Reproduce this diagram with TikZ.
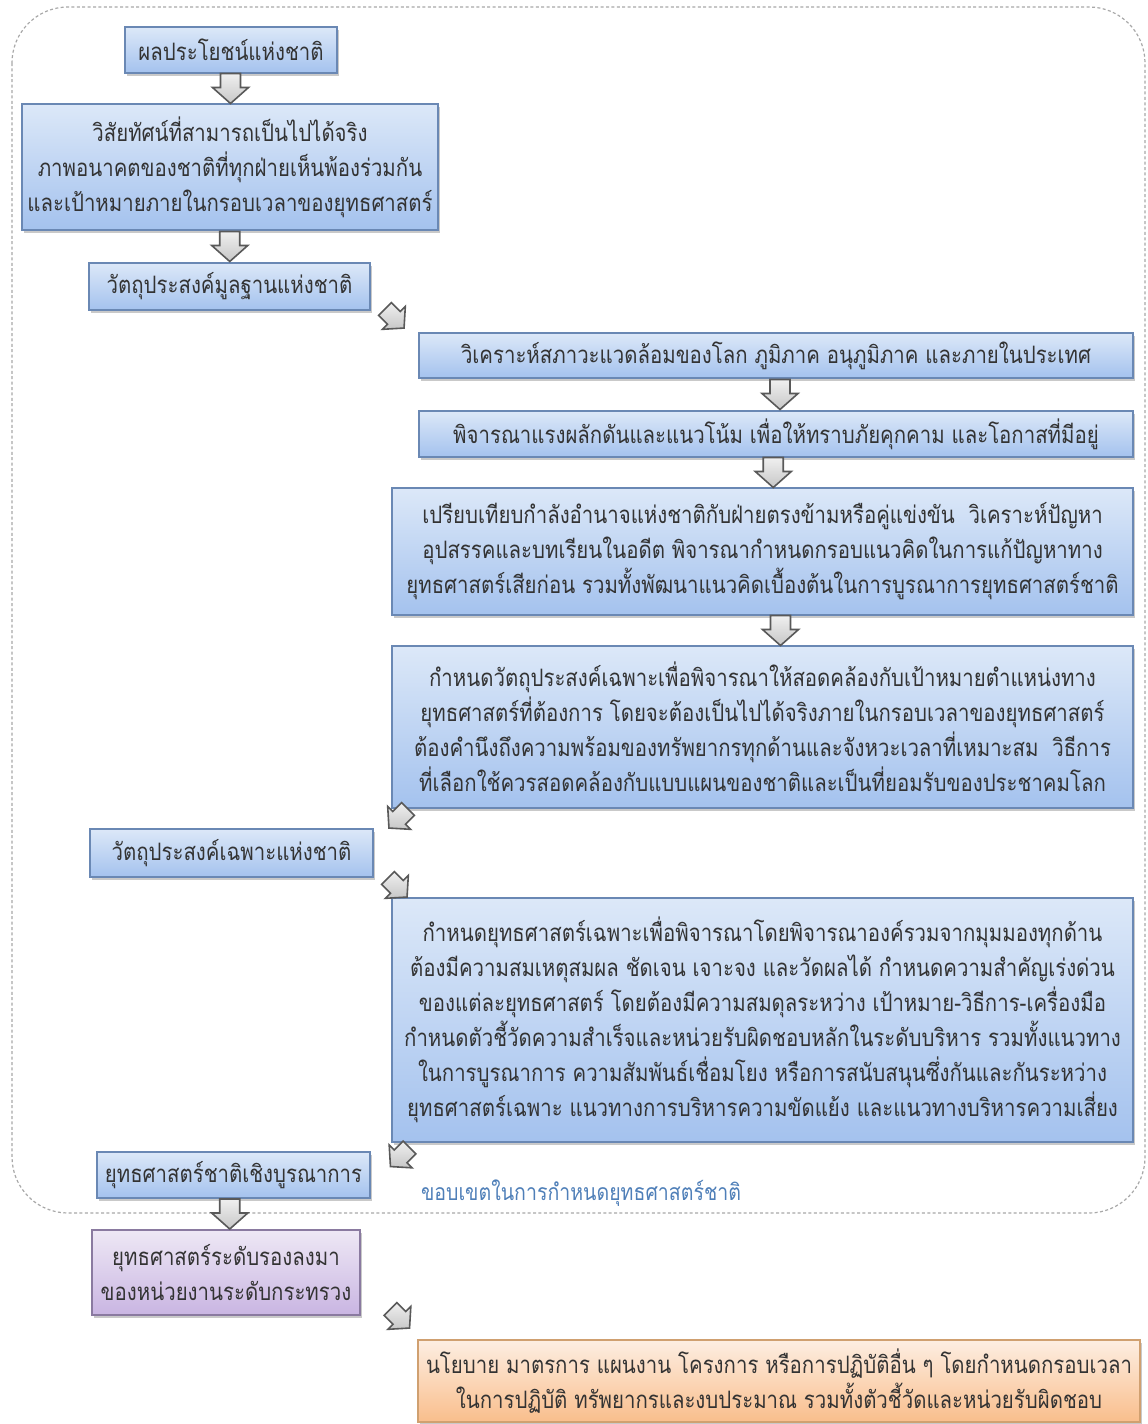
\documentclass[tikz,border=0pt]{standalone}
\usepackage{fontspec}
\setmainfont[Script=Thai,FakeStretch=0.85]{Loma}
\usetikzlibrary{calc,shadows}
\definecolor{txt}{HTML}{333333}
\definecolor{bluetop}{HTML}{DCE8F8}
\definecolor{bluebot}{HTML}{A4C2EE}
\definecolor{bluedraw}{HTML}{6A88B4}
\definecolor{purtop}{HTML}{EEE8F5}
\definecolor{purbot}{HTML}{C9B5E2}
\definecolor{purdraw}{HTML}{8A7AA0}
\definecolor{orgtop}{HTML}{FDEEE2}
\definecolor{orgbot}{HTML}{F9BE8C}
\definecolor{orgdraw}{HTML}{D0A070}
\definecolor{labelblue}{HTML}{4F7FB8}
\definecolor{bordergray}{HTML}{A8A8A8}
\tikzset{
  barrow/.pic={
    \draw[line width=0.8pt, draw=black!65, top color=black!6, bottom color=black!22, line join=miter]
      (-5pt,7.5pt) -- (5pt,7.5pt) -- (5pt,0.5pt) -- (9pt,0.5pt) -- (0pt,-7.5pt)
      -- (-9pt,0.5pt) -- (-5pt,0.5pt) -- cycle;
  }
}
\begin{document}
\begin{tikzpicture}[x=0.5pt,y=-0.5pt,
  base/.style={draw, line width=0.7pt, inner sep=1pt, align=center, text=txt,
    font=\fontsize{12}{17.5}\selectfont,
    drop shadow={shadow xshift=1pt, shadow yshift=-1.5pt, opacity=0.3, fill=black!70}},
  bluebox/.style={base, draw=bluedraw, top color=bluetop, bottom color=bluebot},
  purbox/.style={base, draw=purdraw, top color=purtop, bottom color=purbot},
  orgbox/.style={base, draw=orgdraw, top color=orgtop, bottom color=orgbot},
  boundary/.style={draw=bordergray, line width=0.6pt, dash pattern=on 1.5pt off 1.2pt, rounded corners=28pt},
  scopelabel/.style={text=labelblue, font=\fontsize{11.5}{12}\selectfont, inner sep=0pt}
]
\useasboundingbox (0,0) rectangle (1147,1424);
\draw[boundary] (12,7) rectangle (1145,1213);

\node[bluebox, minimum width=106pt, minimum height=23pt] (n1) at (231,50) {ผลประโยชน์แห่งชาติ};
\node[bluebox, minimum width=208pt, minimum height=63pt] (n2) at (230,167) {วิสัยทัศน์ที่สามารถเป็นไปได้จริง\\ภาพอนาคตของชาติที่ทุกฝ่ายเห็นพ้องร่วมกัน\\และเป้าหมายภายในกรอบเวลาของยุทธศาสตร์};
\node[bluebox, minimum width=140.5pt, minimum height=23.5pt] (n3) at (229.5,286.5) {วัตถุประสงค์มูลฐานแห่งชาติ};
\node[bluebox, minimum width=357pt, minimum height=22.5pt] (n4) at (776,355.5) {วิเคราะห์สภาวะแวดล้อมของโลก ภูมิภาค อนุภูมิภาค และภายในประเทศ};
\node[bluebox, minimum width=357pt, minimum height=23pt] (n5) at (776,434) {พิจารณาแรงผลักดันและแนวโน้ม เพื่อให้ทราบภัยคุกคาม และโอกาสที่มีอยู่};
\node[bluebox, minimum width=370.5pt, minimum height=63.5pt] (n6) at (762.5,551.5) {เปรียบเทียบกำลังอำนาจแห่งชาติกับฝ่ายตรงข้ามหรือคู่แข่งขัน\ \ วิเคราะห์ปัญหา\\อุปสรรคและบทเรียนในอดีต พิจารณากำหนดกรอบแนวคิดในการแก้ปัญหาทาง\\ยุทธศาสตร์เสียก่อน รวมทั้งพัฒนาแนวคิดเบื้องต้นในการบูรณาการยุทธศาสตร์ชาติ};
\node[bluebox, minimum width=370.5pt, minimum height=81pt] (n7) at (762.5,727) {กำหนดวัตถุประสงค์เฉพาะเพื่อพิจารณาให้สอดคล้องกับเป้าหมายตำแหน่งทาง\\ยุทธศาสตร์ที่ต้องการ โดยจะต้องเป็นไปได้จริงภายในกรอบเวลาของยุทธศาสตร์\\ต้องคำนึงถึงความพร้อมของทรัพยากรทุกด้านและจังหวะเวลาที่เหมาะสม\ \ วิธีการ\\ที่เลือกใช้ควรสอดคล้องกับแบบแผนของชาติและเป็นที่ยอมรับของประชาคมโลก};
\node[bluebox, minimum width=141.5pt, minimum height=24pt] (n8) at (231.5,853) {วัตถุประสงค์เฉพาะแห่งชาติ};
\node[bluebox, minimum width=370.5pt, minimum height=122pt] (n9) at (762.5,1020) {กำหนดยุทธศาสตร์เฉพาะเพื่อพิจารณาโดยพิจารณาองค์รวมจากมุมมองทุกด้าน\\ต้องมีความสมเหตุสมผล ชัดเจน เจาะจง และวัดผลได้ กำหนดความสำคัญเร่งด่วน\\ของแต่ละยุทธศาสตร์ โดยต้องมีความสมดุลระหว่าง เป้าหมาย-วิธีการ-เครื่องมือ\\กำหนดตัวชี้วัดความสำเร็จและหน่วยรับผิดชอบหลักในระดับบริหาร รวมทั้งแนวทาง\\ในการบูรณาการ ความสัมพันธ์เชื่อมโยง หรือการสนับสนุนซึ่งกันและกันระหว่าง\\ยุทธศาสตร์เฉพาะ แนวทางการบริหารความขัดแย้ง และแนวทางบริหารความเสี่ยง};
\node[bluebox, minimum width=136.5pt, minimum height=23pt] (n10) at (233.5,1175) {ยุทธศาสตร์ชาติเชิงบูรณาการ};
\node[scopelabel] (lbl) at (581,1193) {ขอบเขตในการกำหนดยุทธศาสตร์ชาติ};
\node[purbox, minimum width=134pt, minimum height=42.5pt] (n11) at (226,1272.5) {ยุทธศาสตร์ระดับรองลงมา\\ของหน่วยงานระดับกระทรวง};
\node[orgbox, minimum width=361pt, minimum height=41pt] (n12) at (779,1381) {นโยบาย มาตรการ แผนงาน โครงการ หรือการปฏิบัติอื่น ๆ โดยกำหนดกรอบเวลา\\ในการปฏิบัติ ทรัพยากรและงบประมาณ รวมทั้งตัวชี้วัดและหน่วยรับผิดชอบ};

\pic at ($(n1.south)!0.5!(n2.north)$) {barrow};
\pic at ($(n2.south)!0.5!(n3.north)$) {barrow};
\pic[rotate=45, scale=0.9] at ($(n3.south east)!0.5!(n4.north west)+(0,-3)$) {barrow};
\pic at ($(n4.south)!0.5!(n5.north)+(4,0)$) {barrow};
\pic at ($(n5.south)!0.5!(n6.north)+(4,0)$) {barrow};
\pic at ($(n6.south)!0.5!(n7.north)+(18,0)$) {barrow};
\pic[rotate=-45, scale=0.9] at ($(n7.south west)!0.5!(n8.north east)+(16,0)$) {barrow};
\pic[rotate=45, scale=0.9] at ($(n8.south east)!0.5!(n9.north west)+(15,0)$) {barrow};
\pic[rotate=-45, scale=0.9] at ($(n9.south west)!0.5!(n10.north east)+(19,10)$) {barrow};
\pic at ($(n10.south)!0.5!(n11.north)$) {barrow};
\pic[rotate=45, scale=0.9] at ($(n11.south east)!0.5!(n12.north west)+(11,-9)$) {barrow};
\end{tikzpicture}
\end{document}
